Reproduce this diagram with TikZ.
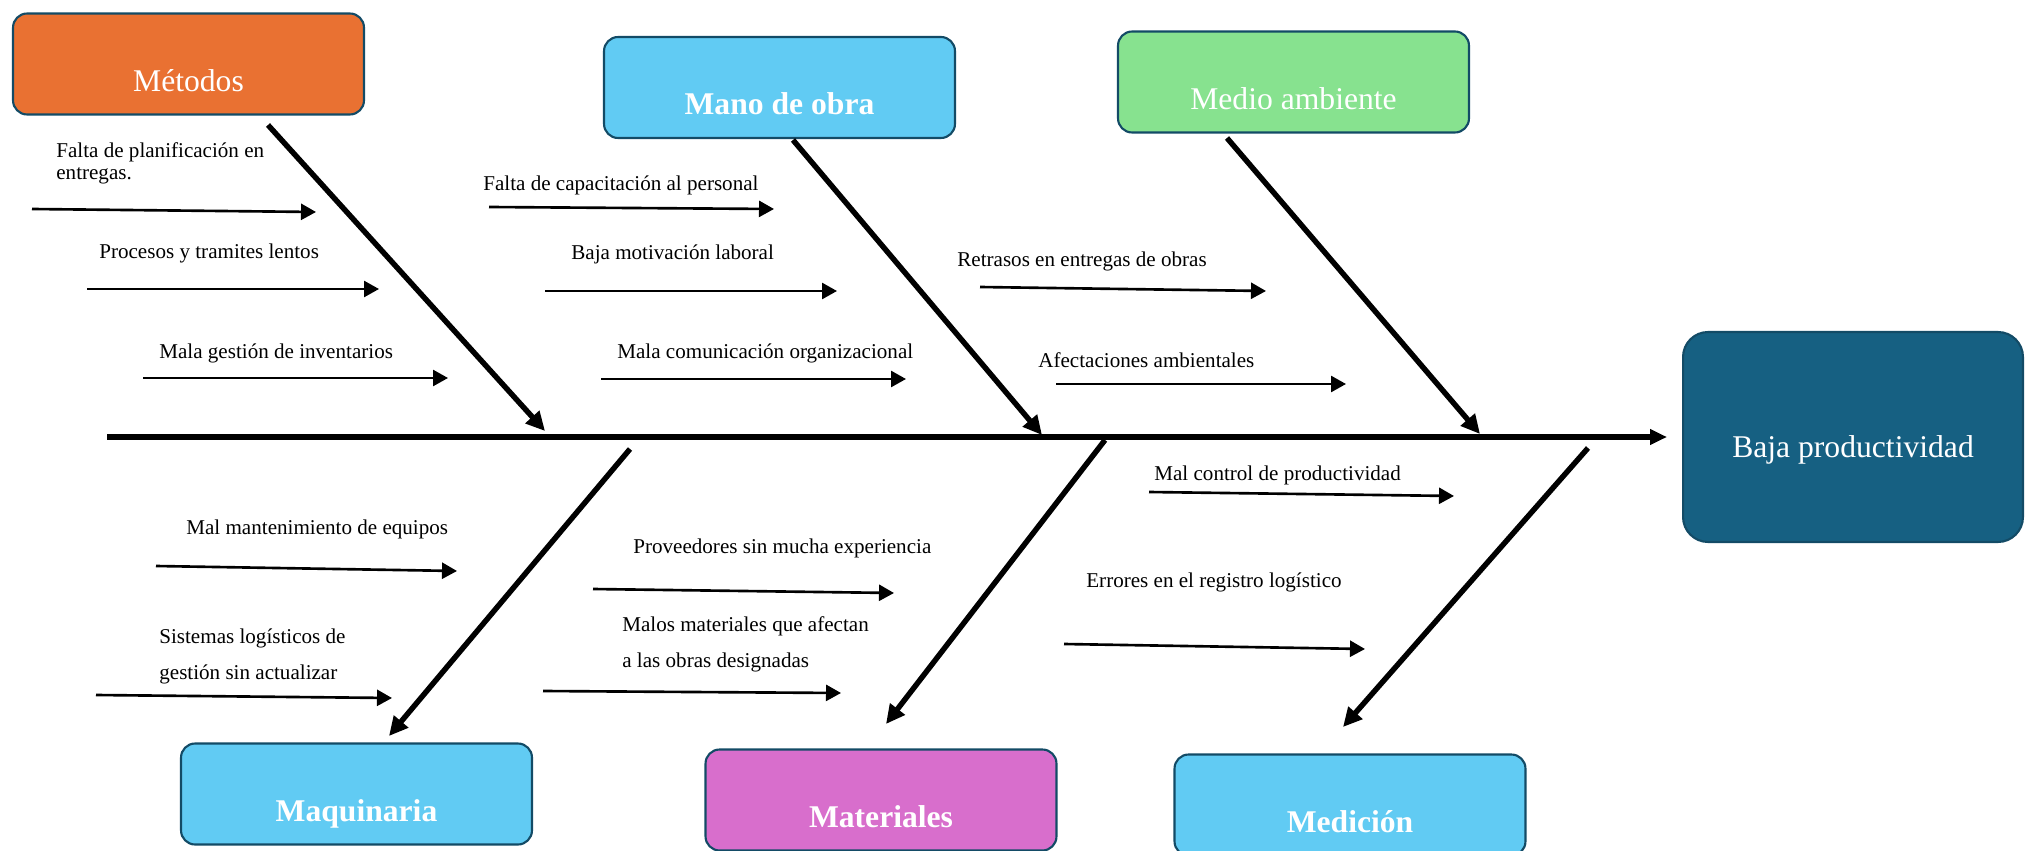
\documentclass[tikz,border=0pt]{standalone}
\usepackage{fontspec}
\setmainfont{Liberation Serif}
\usetikzlibrary{arrows.meta,positioning}
\definecolor{metcol}{HTML}{E97132}
\definecolor{bluecol}{HTML}{61CBF3}
\definecolor{greencol}{HTML}{87E28F}
\definecolor{matcol}{HTML}{D86ECC}
\definecolor{headcol}{HTML}{166082}
\definecolor{edgecol}{HTML}{134B66}
\tikzset{
    catbox/.style = {rectangle,
                    rounded corners=0.28cm,
                    draw=edgecol,
                    text=white,
                    line width=1.2pt,
                    inner sep=0pt,
                    minimum width=7.02cm,
                    minimum height=2.02cm,
                    text height=1.1cm,
                    text depth=0pt,
                    font=\fontsize{18}{20}\selectfont},
    headbox/.style = {catbox,
                    fill=headcol,
                    rounded corners=0.5cm,
                    minimum width=6.8cm,
                    minimum height=4.2cm,
                    text height=0.82cm},
    cause/.style =  {anchor=base west,
                    inner sep=0pt,
                    align=left,
                    text=black,
                    font=\fontsize{12}{13}\selectfont},
    -,
    causearrow/.style = {line width=1.5pt,
                    -{Triangle[length=0.3cm,width=0.32cm]}},
    bone/.style =   {line width=3.1pt,
                    -{Triangle[length=0.38cm,width=0.36cm]}},
    spine/.style =  {line width=3.4pt,
                    -{Triangle[length=0.34cm,width=0.3cm]}}}

\begin{document}
\begin{tikzpicture}[x=0.02cm,y=-0.02cm]
        \useasboundingbox (0,0) rectangle (2025,851);
        % categorias
        \node[catbox,fill=metcol]    (metodos)    at (188.5,64)  {Métodos};
        \node[catbox,fill=bluecol]   (manoobra)   at (779.5,87.5) {\textbf{Mano de obra}};
        \node[catbox,fill=greencol]  (medio)      at (1293.5,82) {Medio ambiente};
        \node[catbox,fill=bluecol]   (maquinaria) at (356.5,794) {\textbf{Maquinaria}};
        \node[catbox,fill=matcol]    (materiales) at (881,800)   {\textbf{Materiales}};
        \node[catbox,fill=bluecol]   (medicion)   at (1350,805)  {\textbf{Medición}};
        \node[headbox]               (baja)       at (1853,437)  {Baja productividad};
        % espina y huesos
        \coordinate (spine0) at (107,437);
        \coordinate (met0) at (268,125);   \coordinate (met1) at (545,431);
        \coordinate (man0) at (793,140);   \coordinate (man1) at (1042,435);
        \coordinate (med0) at (1227,138);  \coordinate (med1) at (1480,434);
        \coordinate (maq0) at (630,449);   \coordinate (maq1) at (389,736);
        \coordinate (mat0) at (1105,440);  \coordinate (mat1) at (886,724);
        \coordinate (mdc0) at (1588,448);  \coordinate (mdc1) at (1343,727);
        \path [spine]   (spine0) edge [shorten >=0.3cm] (baja.west);
        \path [bone]    (met0) edge (met1)
                        (man0) edge (man1)
                        (med0) edge (med1)
                        (maq0) edge (maq1)
                        (mat0) edge (mat1)
                        (mdc0) edge (mdc1);
        % causas
        \node[cause] (ca) at (56,180)   {Falta de planificación en\\entregas.};
        \node[cause] (cb) at (99,258)   {Procesos y tramites lentos};
        \node[cause] (cc) at (159,358)  {Mala gestión de inventarios};
        \node[cause] (cd) at (483,191)  {Falta de capacitación al personal};
        \node[cause] (ce) at (571,259)  {Baja motivación laboral};
        \node[cause] (cf) at (617,358)  {Mala comunicación organizacional};
        \node[cause] (cg) at (957,267)  {Retrasos en entregas de obras};
        \node[cause] (ch) at (1038,367) {Afectaciones ambientales};
        \node[cause] (ci) at (186,534)  {Mal mantenimiento de equipos};
        \node[cause] (cj) at (159,679)  {Sistemas logísticos de\\[7.4pt]gestión sin actualizar};
        \node[cause] (ck) at (633,553)  {Proveedores sin mucha experiencia};
        \node[cause] (cl) at (622,667)  {Malos materiales que afectan\\[7.4pt]a las obras designadas};
        \node[cause] (cm) at (1154,480) {Mal control de productividad};
        \node[cause] (cn) at (1086,587) {Errores en el registro logístico};
        \coordinate (a0) at (32,209);    \coordinate (a1) at (316,212);
        \coordinate (b0) at (87,289);    \coordinate (b1) at (379,289);
        \coordinate (c0) at (143,378);   \coordinate (c1) at (448,378);
        \coordinate (d0) at (489,207);   \coordinate (d1) at (774,209);
        \coordinate (e0) at (545,291);   \coordinate (e1) at (837,291);
        \coordinate (f0) at (601,379);   \coordinate (f1) at (906,379);
        \coordinate (g0) at (980,287);   \coordinate (g1) at (1266,291);
        \coordinate (h0) at (1056,384);  \coordinate (h1) at (1346,384);
        \coordinate (i0) at (156,566);   \coordinate (i1) at (457,571);
        \coordinate (j0) at (96,695);    \coordinate (j1) at (392,698);
        \coordinate (k0) at (593,589);   \coordinate (k1) at (894,593);
        \coordinate (l0) at (543,691);   \coordinate (l1) at (841,693);
        \coordinate (m0) at (1149,492);  \coordinate (m1) at (1454,496);
        \coordinate (n0) at (1064,644);  \coordinate (n1) at (1365,649);
        \path [causearrow]  (a0) edge (a1)
                            (b0) edge (b1)
                            (c0) edge (c1)
                            (d0) edge (d1)
                            (e0) edge (e1)
                            (f0) edge (f1)
                            (g0) edge (g1)
                            (h0) edge (h1)
                            (i0) edge (i1)
                            (j0) edge (j1)
                            (k0) edge (k1)
                            (l0) edge (l1)
                            (m0) edge (m1)
                            (n0) edge (n1);
\end{tikzpicture}
\end{document}
